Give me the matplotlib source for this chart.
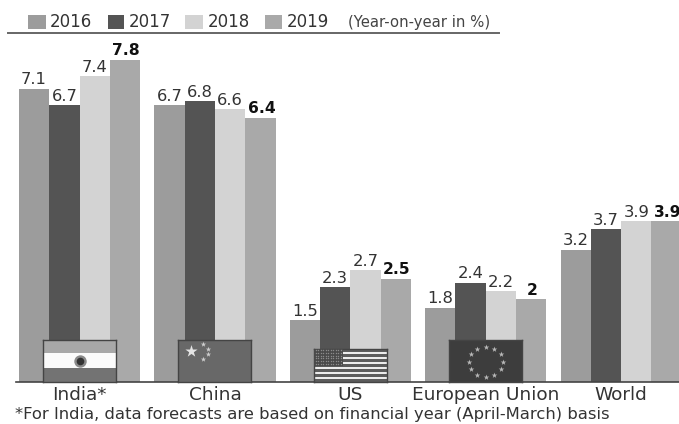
import numpy as np
import matplotlib
matplotlib.use("Agg")
import matplotlib.pyplot as plt
from matplotlib.patches import Rectangle
from matplotlib.lines import Line2D

regions = ["India*", "China", "US", "European Union", "World"]
years = ["2016", "2017", "2018", "2019"]
growth_2016 = [7.1, 6.7, 1.5, 1.8, 3.2]
growth_2017 = [6.7, 6.8, 2.3, 2.4, 3.7]
growth_2018 = [7.4, 6.6, 2.7, 2.2, 3.9]
growth_2019 = [7.8, 6.4, 2.5, 2.0, 3.9]
labels_2019 = ["7.8", "6.4", "2.5", "2", "3.9"]
unit_note = "(Year-on-year in %)"
footnote = "*For India, data forecasts are based on financial year (April-March) basis"

W, H = 679, 424
BASE_Y, TOP_Y = 382, 33
PX_PER_UNIT = 41.3
GROUP_PX = 135.4
FIRST_CENTER = 79.5
BAR_W = 30.3 / GROUP_PX
year_colors = ["#9c9c9c", "#545454", "#d3d3d3", "#a9a9a9"]
TEXT = "#333333"

plt.rcParams["font.family"] = "DejaVu Sans"
fig = plt.figure(figsize=(W / 100, H / 100), dpi=100)
ax = fig.add_axes([0, 1 - BASE_Y / H, 1, (BASE_Y - TOP_Y) / H])
ax.set_xlim(-FIRST_CENTER / GROUP_PX, (W - FIRST_CENTER) / GROUP_PX)
ax.set_ylim(0, (BASE_Y - TOP_Y) / PX_PER_UNIT)
ax.patch.set_alpha(0)

series = [growth_2016, growth_2017, growth_2018, growth_2019]
x = np.arange(len(regions))
for k, (vals, col) in enumerate(zip(series, year_colors)):
    offs = x + (k - 1.5) * BAR_W
    ax.bar(offs, vals, BAR_W, color=col, linewidth=0)
    for i, (xp, v) in enumerate(zip(offs, vals)):
        bold = k == 3
        txt = labels_2019[i] if bold else f"{v:.1f}"
        ax.annotate(txt, (xp, v), xytext=(0.8 if bold else 0, 1.0), textcoords="offset points",
                    ha="center", va="bottom", fontsize=11.2 if bold else 11.8,
                    fontweight="bold" if bold else "normal",
                    color="#111111" if bold else TEXT, annotation_clip=False)

for s in ["top", "left", "right"]:
    ax.spines[s].set_visible(False)
ax.spines["bottom"].set_color("#444444")
ax.spines["bottom"].set_linewidth(1.2)
ax.spines["bottom"].set_bounds(ax.get_xlim()[0] + 16 / GROUP_PX, ax.get_xlim()[1])
ax.set_yticks([])
ax.set_xticks(x, regions)
ax.tick_params(axis="x", length=0, pad=3, labelsize=13.3, labelcolor=TEXT)


def flag_axes(i, top_px):
    """Small axes sitting on the baseline of group i, with 0-1 local coordinates."""
    w = 73 / GROUP_PX
    h = (BASE_Y - top_px) / PX_PER_UNIT
    fa = ax.inset_axes([i - w / 2, 0, w, h], transform=ax.transData)
    fa.set_xlim(0, 1)
    fa.set_ylim(0, 1)
    fa.set_xticks([])
    fa.set_yticks([])
    for s in fa.spines.values():
        s.set_color("#444444")
        s.set_linewidth(1.0)
    return fa


# India
fa = flag_axes(0, 340)
fa.axhspan(0.68, 1, color="#a8a8a8", lw=0)
fa.axhspan(0.33, 0.68, color="#fbfbfb", lw=0)
fa.axhspan(0, 0.33, color="#737373", lw=0)
fa.scatter([0.5], [0.5], s=80, color="#8a8a8a", lw=0)
fa.scatter([0.5], [0.5], s=30, color="#333333", lw=0)

# China
fa = flag_axes(1, 340)
fa.set_facecolor("#686868")
fa.scatter([0.17], [0.745], s=85, marker="*", color="#e4e4e4", lw=0)
fa.scatter([0.335, 0.41, 0.41, 0.335], [0.905, 0.786, 0.667, 0.548], s=16,
           marker="*", color="#cfcfcf", lw=0)

# United States
fa = flag_axes(2, 349)
stripe_h = 1 / 13
for n in range(13):
    fa.axhspan(n * stripe_h, (n + 1) * stripe_h,
               color="#5c5c5c" if n % 2 == 0 else "#ececec", lw=0)
fa.add_patch(Rectangle((0, 0.5), 0.4, 0.5, color="#4a4a4a", lw=0, zorder=3))
sx, sy = np.meshgrid(np.linspace(0.03, 0.37, 11), np.linspace(0.55, 0.96, 6))
fa.scatter(sx.ravel(), sy.ravel(), s=1.0, color="#8a8a8a", lw=0, zorder=4)

# European Union
fa = flag_axes(3, 340)
fa.set_facecolor("#3d3d3d")
ang = np.arange(12) * np.pi / 6
fa.scatter(0.5 + 0.235 * np.cos(ang), 0.48 + 0.35 * np.sin(ang), s=18,
           marker="*", color="#b8b8b8", lw=0)


def fx(px):
    return px / W


def fy(px):
    return 1 - px / H


# Legend row and the rule beneath it
swatches = [(28, 46), (108, 124), (185, 203), (265, 282)]
text_x = [50, 129, 208, 287]
for (a, b), tx, yr, col in zip(swatches, text_x, years, year_colors):
    fig.add_artist(Rectangle((fx(a), fy(29)), fx(b - a), 14 / H, transform=fig.transFigure,
                             color=col, lw=0))
    fig.text(fx(tx), fy(22), yr, fontsize=12, color=TEXT, va="center", ha="left")
fig.text(fx(348), fy(23), unit_note, fontsize=10.7, color="#444444", va="center", ha="left")
fig.add_artist(Line2D([fx(8), fx(499)], [fy(33), fy(33)], color="#666666", lw=1.4))

fig.text(fx(15), fy(414), footnote, fontsize=11.78, color=TEXT, va="center", ha="left")

fig.savefig("out.png", dpi=100, facecolor="white")
